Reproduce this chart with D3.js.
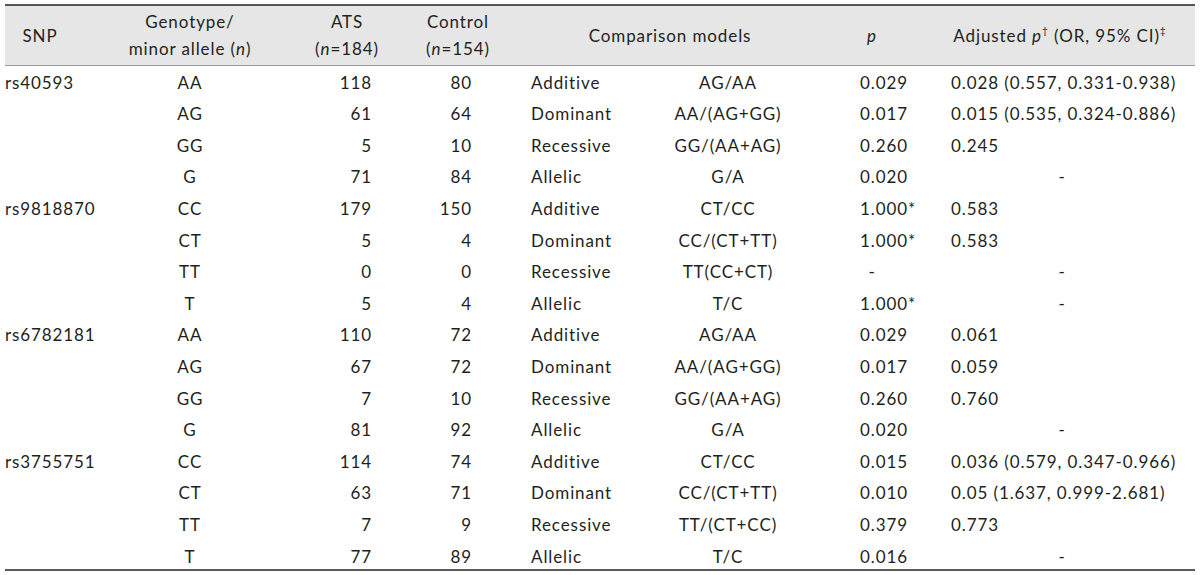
<!DOCTYPE html>
<html><head><meta charset="utf-8">
<script src="https://cdn.jsdelivr.net/npm/d3@7"></script>
<style>body{margin:0;background:#fff}svg text{font-family:Lato,"Noto Sans",sans-serif;fill:#231f20;letter-spacing:0.9px}</style>
</head><body><svg id="c" width="1200" height="575"></svg>
<script>
const snps = ["rs40593","","","","rs9818870","","","","rs6782181","","","","rs3755751","","",""];
const genotypes = ["AA","AG","GG","G","CC","CT","TT","T","AA","AG","GG","G","CC","CT","TT","T"];
const ats = [118,61,5,71,179,5,0,5,110,67,7,81,114,63,7,77];
const control = [80,64,10,84,150,4,0,4,72,72,10,92,74,71,9,89];
const models = ["Additive","Dominant","Recessive","Allelic","Additive","Dominant","Recessive","Allelic","Additive","Dominant","Recessive","Allelic","Additive","Dominant","Recessive","Allelic"];
const formulas = ["AG/AA","AA/(AG+GG)","GG/(AA+AG)","G/A","CT/CC","CC/(CT+TT)","TT(CC+CT)","T/C","AG/AA","AA/(AG+GG)","GG/(AA+AG)","G/A","CT/CC","CC/(CT+TT)","TT/(CT+CC)","T/C"];
const pvals = ["0.029","0.017","0.260","0.020","1.000*","1.000*","-","1.000*","0.029","0.017","0.260","0.020","0.015","0.010","0.379","0.016"];
const adjusted = ["0.028 (0.557, 0.331-0.938)","0.015 (0.535, 0.324-0.886)","0.245","-","0.583","0.583","-","-","0.061","0.059","0.760","-","0.036 (0.579, 0.347-0.966)","0.05 (1.637, 0.999-2.681)","0.773","-"];

const svg = d3.select("#c");
const fs = 17;
const y = d3.scalePoint().domain(d3.range(16)).range([82, 556]);

svg.append("rect").attr("x",5).attr("y",5).attr("width",1190).attr("height",60).attr("fill","#e6e6e6");
svg.append("line").attr("x1",5).attr("x2",1195).attr("y1",5).attr("y2",5).attr("stroke","#222").attr("stroke-width",1.6);
svg.append("line").attr("x1",5).attr("x2",1195).attr("y1",65.5).attr("y2",65.5).attr("stroke","#999").attr("stroke-width",1.2);
svg.append("line").attr("x1",5).attr("x2",1195).attr("y1",570).attr("y2",570).attr("stroke","#222").attr("stroke-width",1.6);

function txt(x, yy, anchor, parts){
  const t = svg.append("text").attr("x",x).attr("y",yy).attr("text-anchor",anchor)
    .attr("dominant-baseline","central").attr("font-size",fs);
  parts.forEach(p=>{
    const s = t.append("tspan").text(p.t);
    if(p.i) s.attr("font-style","italic");
    if(p.sup) s.attr("font-size",fs*0.6).attr("dy",-5);
    if(p.down) s.attr("dy",5);
  });
  return t;
}
txt(40,35,"middle",[{t:"SNP"}]);
txt(190,21,"middle",[{t:"Genotype/"}]);
txt(190,48,"middle",[{t:"minor allele ("},{t:"n",i:1},{t:")"}]);
txt(347,21,"middle",[{t:"ATS"}]);
txt(347,48,"middle",[{t:"("},{t:"n",i:1},{t:"=184)"}]);
txt(458,21,"middle",[{t:"Control"}]);
txt(458,48,"middle",[{t:"("},{t:"n",i:1},{t:"=154)"}]);
txt(670,35,"middle",[{t:"Comparison models"}]);
txt(872,35,"middle",[{t:"p",i:1}]);
txt(1060,35,"middle",[{t:"Adjusted "},{t:"p",i:1},{t:"†",sup:1},{t:" (OR, 95% CI)",down:1},{t:"‡",sup:1}]);

const rows = d3.range(16);
const g = svg.append("g").attr("font-size",fs);
function col(arr, xf, anchorf){
  g.selectAll(null).data(rows).join("text")
    .attr("x", xf).attr("y", d=>y(d)).attr("text-anchor", anchorf)
    .attr("dominant-baseline","central").text(d=>arr[d]);
}
col(snps,()=>5,()=>"start");
col(genotypes,()=>190,()=>"middle");
col(ats,()=>372,()=>"end");
col(control,()=>472,()=>"end");
col(models,()=>531,()=>"start");
col(formulas,()=>728,()=>"middle");
col(pvals,d=>pvals[d]==="-"?872:860,d=>pvals[d]==="-"?"middle":"start");
col(adjusted,d=>adjusted[d]==="-"?1062:951,d=>adjusted[d]==="-"?"middle":"start");
</script></body></html>
